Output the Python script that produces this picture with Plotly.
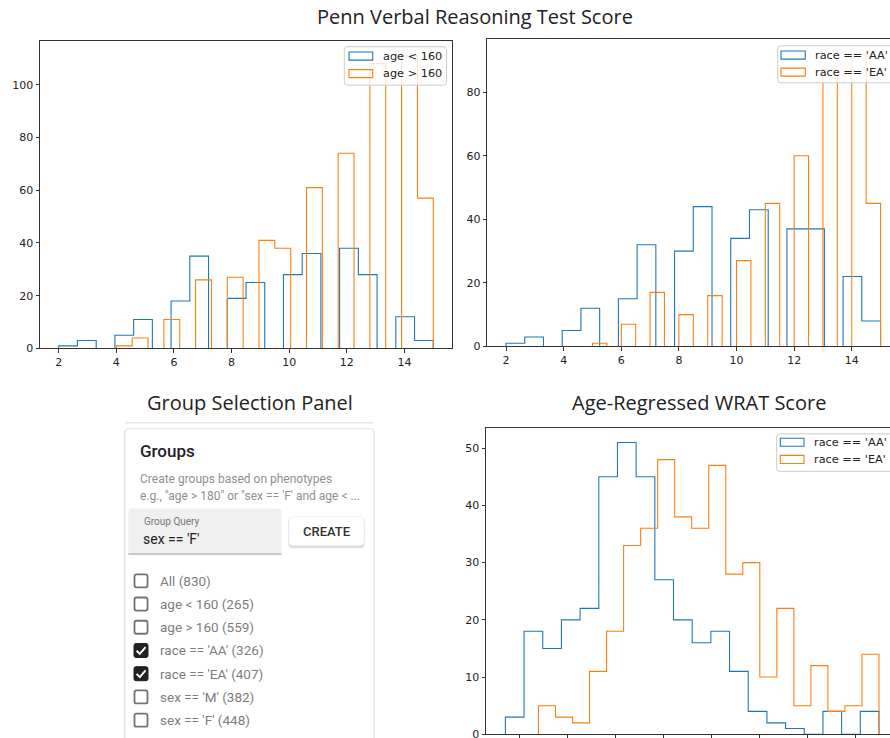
import numpy as np
import plotly.graph_objects as go

W, H_REF = 890, 738
H = 746  # page height; the photographed page is scaled to 738 px tall

# ---------------- data ----------------
verbal_age_lt160_range = (2.0, 15.0)
verbal_age_lt160_counts = [1, 3, 0, 5, 11, 0, 18, 35, 0, 19, 25, 0, 28, 36, 0, 38, 28, 0, 12, 3]
verbal_age_gt160_range = (4.0, 15.0)
verbal_age_gt160_counts = [1, 4, 0, 11, 0, 26, 0, 27, 0, 41, 38, 0, 61, 0, 74, 0, 108, 0, 111, 57]

verbal_race_aa_range = (2.0, 15.0)
verbal_race_aa_counts = [1, 3, 0, 5, 12, 0, 15, 32, 0, 30, 44, 0, 34, 43, 0, 37, 37, 0, 22, 8]
verbal_race_ea_range = (5.0, 15.0)
verbal_race_ea_counts = [1, 0, 7, 0, 17, 0, 10, 0, 16, 0, 27, 0, 45, 0, 60, 0, 87, 0, 92, 45]

wrat_race_aa_range = (-42.9, 35.0)
wrat_race_aa_counts = [3, 18, 15, 20, 22, 45, 51, 45, 27, 20, 16, 18, 11, 4, 2, 1, 0, 4, 0, 4]
wrat_race_ea_range = (-36.0, 35.0)
wrat_race_ea_counts = [5, 3, 2, 11, 18, 33, 36, 48, 38, 36, 47, 28, 30, 10, 22, 5, 12, 4, 5, 14]

verbal_xticks = [2, 4, 6, 8, 10, 12, 14]
verbal_age_yticks = [0, 20, 40, 60, 80, 100]
verbal_race_yticks = [0, 20, 40, 60, 80]
wrat_xticks = [-40, -30, -20, -10, 0, 10, 20, 30]
wrat_yticks = [0, 10, 20, 30, 40, 50]

legend_age = ["age < 160", "age > 160"]
legend_race = ["race == 'AA'", "race == 'EA'"]

titles = ["Penn Verbal Reasoning Test Score", "Group Selection Panel", "Age-Regressed WRAT Score"]
group_labels = ["All (830)", "age < 160 (265)", "age > 160 (559)", "race == 'AA' (326)",
                "race == 'EA' (407)", "sex == 'M' (382)", "sex == 'F' (448)"]
group_checked = [False, False, False, True, True, False, False]
query_value = "sex == 'F'"

BLUE = "#1f77b4"
ORANGE = "#ff7f0e"
AX = "#333333"


def px(x):
    return x / W


def py(y):
    return 1 - y / H_REF


def step_trace(rng, counts, color, xa, ya):
    edges = np.linspace(rng[0], rng[1], len(counts) + 1)
    x = [edges[0]] + list(edges) + [edges[-1]]
    y = [0] + list(counts) + [counts[-1], 0]
    return go.Scatter(x=x, y=y, mode="lines", line=dict(color=color, width=1.1, shape="hv"),
                      xaxis=xa, yaxis=ya, showlegend=False, hoverinfo="skip")


fig = go.Figure()
fig.add_trace(step_trace(verbal_age_lt160_range, verbal_age_lt160_counts, BLUE, "x", "y"))
fig.add_trace(step_trace(verbal_age_gt160_range, verbal_age_gt160_counts, ORANGE, "x", "y"))
fig.add_trace(step_trace(verbal_race_aa_range, verbal_race_aa_counts, BLUE, "x2", "y2"))
fig.add_trace(step_trace(verbal_race_ea_range, verbal_race_ea_counts, ORANGE, "x2", "y2"))
fig.add_trace(step_trace(wrat_race_aa_range, wrat_race_aa_counts, BLUE, "x3", "y3"))
fig.add_trace(step_trace(wrat_race_ea_range, wrat_race_ea_counts, ORANGE, "x3", "y3"))

tickfont = dict(family="DejaVu Sans", size=11, color="#222")
axcommon = dict(showgrid=False, zeroline=False, showline=True, linecolor=AX, linewidth=1,
                ticks="outside", ticklen=3.5, tickwidth=0.8, tickcolor=AX, tickfont=tickfont,
                fixedrange=True)

fig.update_layout(
    xaxis=dict(domain=[px(40), px(452)], range=[1.35, 15.65], tickvals=verbal_xticks,
               anchor="y", mirror=True, **axcommon),
    yaxis=dict(domain=[py(348), py(41)], range=[0, 116.55], tickvals=verbal_age_yticks,
               anchor="x", mirror=True, **axcommon),
    xaxis2=dict(domain=[px(487.3), 1], range=[1.35, 1.35 + (890 - 487.3) / 28.81],
                tickvals=verbal_xticks, anchor="y2", mirror=True, **axcommon),
    yaxis2=dict(domain=[py(346), py(39.3)], range=[0, 96.6], tickvals=verbal_race_yticks,
                anchor="x2", mirror=False, **axcommon),
    xaxis3=dict(domain=[px(486), 1], range=[-46.94, -46.94 + (890 - 486) / 4.796],
                tickvals=wrat_xticks, showticklabels=False, anchor="y3", mirror=True, **axcommon),
    yaxis3=dict(domain=[py(733.3), py(427.3)], range=[0, 53.55], tickvals=wrat_yticks,
                anchor="x3", mirror=False, **axcommon),
)

shapes = []
annotations = []


def rrect_path(x0, y0, x1, y1, r, top_only=False):
    if top_only:
        return (f"M {px(x0)},{py(y1)} L {px(x0)},{py(y0 + r)} Q {px(x0)},{py(y0)} {px(x0 + r)},{py(y0)} "
                f"L {px(x1 - r)},{py(y0)} Q {px(x1)},{py(y0)} {px(x1)},{py(y0 + r)} L {px(x1)},{py(y1)} Z")
    return (f"M {px(x0 + r)},{py(y0)} L {px(x1 - r)},{py(y0)} Q {px(x1)},{py(y0)} {px(x1)},{py(y0 + r)} "
            f"L {px(x1)},{py(y1 - r)} Q {px(x1)},{py(y1)} {px(x1 - r)},{py(y1)} "
            f"L {px(x0 + r)},{py(y1)} Q {px(x0)},{py(y1)} {px(x0)},{py(y1 - r)} "
            f"L {px(x0)},{py(y0 + r)} Q {px(x0)},{py(y0)} {px(x0 + r)},{py(y0)} Z")


def add_rrect(x0, y0, x1, y1, r, fill, line, lw=1, layer="above", top_only=False):
    shapes.append(dict(type="path", xref="paper", yref="paper", path=rrect_path(x0, y0, x1, y1, r, top_only),
                       fillcolor=fill, line=dict(color=line, width=lw), layer=layer))


def add_text(x, y, text, size, color, family="Roboto", xanchor="left", weight="normal"):
    annotations.append(dict(x=px(x), y=py(y), xref="paper", yref="paper", text=text, showarrow=False,
                            xanchor=xanchor, yanchor="middle",
                            font=dict(family=family, size=size, color=color, weight=weight)))


def esc(s):
    return s.replace("<", "&lt;").replace(">", "&gt;")


def add_legend(box, labels, patch_x, rows, text_x, size=11.3):
    x0, y0, x1, y1 = box
    add_rrect(x0, y0, x1, y1, 3, "rgba(255,255,255,0.8)", "#cccccc", 1)
    for lab, col, ry in zip(labels, [BLUE, ORANGE], rows):
        shapes.append(dict(type="rect", xref="paper", yref="paper", x0=px(patch_x[0]), x1=px(patch_x[1]),
                           y0=py(ry + 4), y1=py(ry - 4), line=dict(color=col, width=1.1),
                           fillcolor="rgba(0,0,0,0)", layer="above"))
        add_text(text_x, ry, esc(lab), size, "#222", family="DejaVu Sans")


add_legend((344.3, 46.7, 446.5, 85), legend_age, (349, 372.7), [56, 73.5], 380.5)
add_legend((777.7, 45.7, 905, 82.7), legend_race, (781, 805.3), [55, 72], 812.5)
add_legend((776.7, 433.3, 905, 470.7), legend_race, (780.3, 804), [441.7, 458.8], 811.5)

add_text(475, 16, titles[0], 20, "#222", family="Open Sans", xanchor="center")
add_text(250, 402, titles[1], 20, "#222", family="Open Sans", xanchor="center")
add_text(699, 402, titles[2], 20, "#222", family="Open Sans", xanchor="center")

shapes.append(dict(type="line", xref="paper", yref="paper", x0=px(125), x1=px(373), y0=py(422.3), y1=py(422.3),
                   line=dict(color="#dcdcdc", width=1)))
add_rrect(124, 428.5, 375, 760, 4, "rgba(0,0,0,0.06)", "rgba(0,0,0,0)", 0)
add_rrect(125, 428, 374, 758, 4, "white", "rgba(0,0,0,0.10)", 1)
add_text(138, 450, "Groups", 17, "#222", weight=500)
add_text(138, 478.5, "Create groups based on phenotypes", 12, "#8f8f8f")
add_text(138, 495, esc("e.g., \"age > 180\" or \"sex == 'F' and age < ..."), 12, "#8f8f8f")
add_rrect(128.3, 507.7, 281.7, 553, 4, "#f0f0f0", "rgba(0,0,0,0)", 0, top_only=True)
shapes.append(dict(type="line", xref="paper", yref="paper", x0=px(128.3), x1=px(281.7), y0=py(553.3), y1=py(553.3),
                   line=dict(color="#949494", width=1)))
add_text(141.5, 520.5, "Group Query", 10, "#777")
add_text(141, 538.5, query_value, 14, "#222")
add_rrect(288.5, 517, 364.5, 547.5, 4, "rgba(0,0,0,0.12)", "rgba(0,0,0,0)", 0)
add_rrect(289, 516, 364, 545, 4, "white", "rgba(0,0,0,0.05)", 1)
add_text(326.5, 530.5, "CREATE", 13, "#333", xanchor="center", weight=500)

row0, drow = 580, 23.2
for i, (lab, chk) in enumerate(zip(group_labels, group_checked)):
    yc = row0 + i * drow
    if chk:
        add_rrect(134, yc - 7, 148, yc + 7, 2, "#222222", "#222222", 1)
        shapes.append(dict(type="path", xref="paper", yref="paper",
                           path=f"M {px(136.6)},{py(yc + 0.2)} L {px(139.8)},{py(yc + 3.4)} L {px(145.6)},{py(yc - 3.4)}",
                           line=dict(color="white", width=2), layer="above"))
    else:
        add_rrect(134.5, yc - 6.5, 147.5, yc + 6.5, 2, "white", "#737373", 1.8)
    add_text(157.5, yc, esc(lab), 13.5, "#7d7d7d")

fig.update_layout(
    width=W, height=H, margin=dict(l=0, r=0, t=0, b=0),
    paper_bgcolor="white", plot_bgcolor="white",
    shapes=shapes, annotations=annotations, showlegend=False,
)

post = (
    "document.documentElement.style.cssText='margin:0;padding:0;overflow:hidden';"
    "document.body.style.cssText='margin:0;padding:0;overflow:hidden';"
)
fig.write_html("out.html", config={"displayModeBar": False, "responsive": False}, post_script=post)
